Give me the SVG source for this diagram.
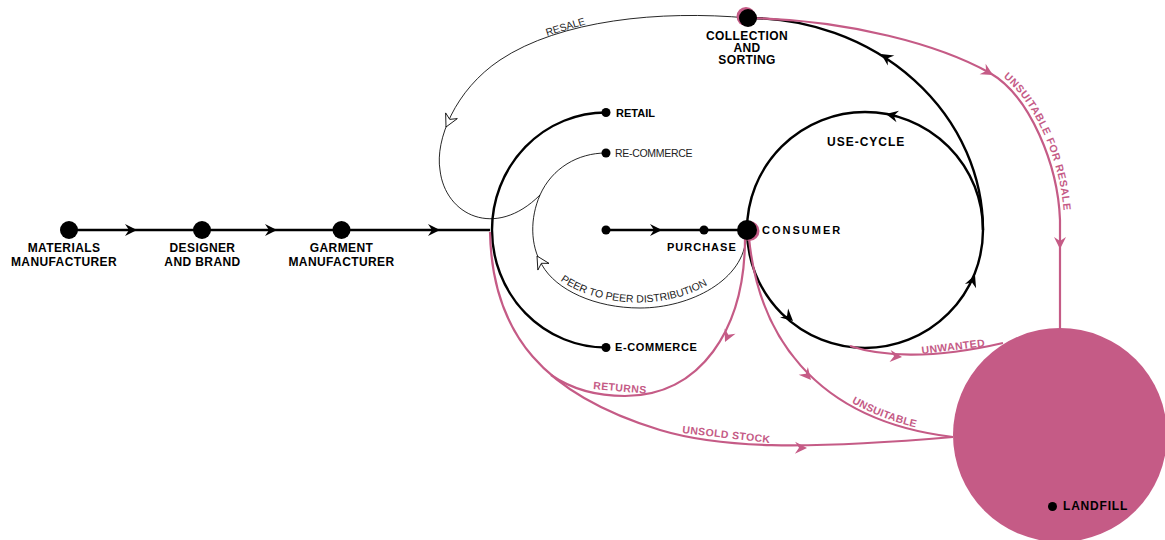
<svg xmlns="http://www.w3.org/2000/svg" width="1165" height="540" viewBox="0 0 1165 540">
<defs>
<style>
.k{fill:none;stroke:#000;stroke-width:2.4}
.p{fill:none;stroke:#C55B86;stroke-width:2.2}
.t{fill:none;stroke:#000;stroke-width:0.85}
.ak{fill:#000}
.ap{fill:#C55B86}
.ao{fill:#fff;stroke:#000;stroke-width:0.8}
.lb{font-family:"Liberation Sans",Arial,sans-serif;font-weight:bold;font-size:12px;fill:#000;letter-spacing:0.4px}
.lm{font-family:"Liberation Sans",Arial,sans-serif;font-weight:bold;font-size:11px;fill:#000}
.pl{font-family:"Liberation Sans",Arial,sans-serif;font-weight:bold;font-size:10.5px;fill:#C55B86;letter-spacing:0.4px}
.tl{font-family:"Liberation Sans",Arial,sans-serif;font-size:10px;fill:#222}
.dot{fill:#000}
</style>
<path id="ah" d="M0,0 L-12,-6 L-8,0 L-12,6 Z"/>
<path id="oh" d="M0,0 L-12.5,-6.5 L-8.5,0 L-12.5,6.5 Z"/>
<path id="tp-usr" d="M752,14 C852,16 942,41 992,69.5 C1034,93 1063,165 1064,220"/>
<path id="tp-p2p" d="M544,263 C558,287 597,302.5 640,302.5 C688,302.5 741,276 742,235"/>
<path id="tp-uns" d="M752,234 C761,328 812,417 953,434"/>
</defs>
<rect width="1165" height="540" fill="#fff"/>

<g id="connectors">
  <path class="k" d="M69,230 L490,230"/>
  <path class="k" d="M606,230 L747,230"/>
  <path class="k" d="M606,112.5 A114,117.5 0 0 0 606,347.5"/>
  <circle class="k" cx="865" cy="230" r="118"/>
  <path class="k" d="M983,230 A235,212 0 0 0 748,18"/>
  <path class="t" d="M748,18 C660,10 560,20 500,60 C455,90 435,140 440,170 C445,215 495,240 540,195"/>
  <path class="t" d="M606,153 C578,153 552,168 540,195 C530,218 530,245 542,265 C556,290 595,308 640,308 C690,308 745,280 746,236"/>
  <path class="p" d="M748,18 C850,20 940,45 990,73 C1030,96 1058,165 1060,220 L1060,332"/>
  <path class="p" d="M490,232 C492,335 545,395 660,430 C720,448 800,450 953,437"/>
  <path class="p" d="M745,238 C745,330 700,396 625,396 C595,396 570,388 551,375"/>
  <path class="p" d="M749,238 C758,330 810,420 953,437"/>
  <path class="p" d="M850,346 C880,356 930,360 1003,343"/>

  <use href="#ah" class="ak" transform="translate(137,230)"/>
  <use href="#ah" class="ak" transform="translate(277,230)"/>
  <use href="#ah" class="ak" transform="translate(440,230)"/>
  <use href="#ah" class="ak" transform="translate(662,230)"/>
  <use href="#ah" class="ak" transform="translate(886,114) rotate(-168)"/>
  <use href="#ah" class="ak" transform="translate(793,321) rotate(42)"/>
  <use href="#ah" class="ak" transform="translate(975,275) rotate(-68)"/>
  <use href="#ah" class="ak" transform="translate(881,54) rotate(-147)"/>
  <use href="#ah" class="ap" transform="translate(993,75) rotate(30)"/>
  <use href="#ah" class="ap" transform="translate(1060,249) rotate(90)"/>
  <use href="#ah" class="ap" transform="translate(725,342) rotate(115)"/>
  <use href="#ah" class="ap" transform="translate(811,380) rotate(50)"/>
  <use href="#ah" class="ap" transform="translate(902,357) rotate(5)"/>
  <use href="#ah" class="ap" transform="translate(807,448) rotate(1)"/>
  <use href="#oh" class="ao" transform="translate(446,127) rotate(116)"/>
  <use href="#oh" class="ao" transform="translate(537,256) rotate(-121)"/>

  <text class="tl" style="font-size:10.3px" transform="rotate(-17 547 36)" x="547" y="36">RESALE</text>
  <text class="tl" style="font-size:10.5px"><textPath href="#tp-p2p" startOffset="24">PEER TO PEER DISTRIBUTION</textPath></text>
  <text class="pl" style="letter-spacing:0.6px"><textPath href="#tp-usr" startOffset="262">UNSUITABLE FOR RESALE</textPath></text>
  <text class="pl" style="letter-spacing:0.2px"><textPath href="#tp-uns" startOffset="204">UNSUITABLE</textPath></text>
  <text class="pl" transform="rotate(5 593 389)" x="593" y="389">RETURNS</text>
  <text class="pl" transform="rotate(6.5 682 433)" x="682" y="433">UNSOLD STOCK</text>
  <text class="pl" transform="rotate(-7 922 354)" x="922" y="354">UNWANTED</text>
</g>

<g id="n-materials">
  <circle class="dot" cx="69" cy="230" r="9"/>
  <text class="lb" text-anchor="middle" x="64" y="252">MATERIALS</text>
  <text class="lb" text-anchor="middle" x="64" y="266">MANUFACTURER</text>
</g>
<g id="n-designer">
  <circle class="dot" cx="202" cy="230" r="9"/>
  <text class="lb" text-anchor="middle" x="202.5" y="252">DESIGNER</text>
  <text class="lb" text-anchor="middle" x="202.5" y="266">AND BRAND</text>
</g>
<g id="n-garment">
  <circle class="dot" cx="341.5" cy="230" r="9"/>
  <text class="lb" text-anchor="middle" x="341.5" y="252">GARMENT</text>
  <text class="lb" text-anchor="middle" x="341.5" y="266">MANUFACTURER</text>
</g>
<g id="n-retail">
  <circle class="dot" cx="606" cy="112.5" r="4.5"/>
  <text class="lm" x="616" y="116.5">RETAIL</text>
</g>
<g id="n-recommerce">
  <circle class="dot" cx="606" cy="153" r="4.5"/>
  <text class="tl" style="font-size:10.5px;letter-spacing:-0.3px" x="615" y="156.5">RE-COMMERCE</text>
</g>
<g id="n-ecommerce">
  <circle class="dot" cx="606" cy="347.5" r="4.5"/>
  <text class="lm" style="letter-spacing:0.6px" x="615" y="351">E-COMMERCE</text>
</g>
<g id="n-purchase">
  <circle class="dot" cx="606" cy="230" r="4.5"/>
  <circle class="dot" cx="704" cy="230" r="4.5"/>
  <text class="lm" style="letter-spacing:1px" x="667" y="251">PURCHASE</text>
</g>
<g id="n-consumer">
  <circle cx="749.5" cy="231" r="10" fill="#C55B86"/>
  <circle class="dot" cx="747" cy="230" r="10"/>
  <text class="lm" style="letter-spacing:2px" x="762" y="234">CONSUMER</text>
</g>
<g id="n-collection">
  <circle cx="746" cy="16.5" r="9.5" fill="#C55B86"/>
  <circle class="dot" cx="748" cy="18" r="9"/>
  <text class="lb" text-anchor="middle" x="747" y="40">COLLECTION</text>
  <text class="lb" text-anchor="middle" x="747" y="52">AND</text>
  <text class="lb" text-anchor="middle" x="747" y="64">SORTING</text>
</g>
<g id="n-usecycle">
  <text class="lb" style="letter-spacing:1px" x="827" y="146">USE-CYCLE</text>
</g>
<g id="n-landfill">
  <circle cx="1060" cy="435" r="107" fill="#C55B86"/>
  <circle class="dot" cx="1052.5" cy="506.5" r="4.5"/>
  <text class="lb" style="letter-spacing:0.8px" x="1063" y="510">LANDFILL</text>
</g>
</svg>
